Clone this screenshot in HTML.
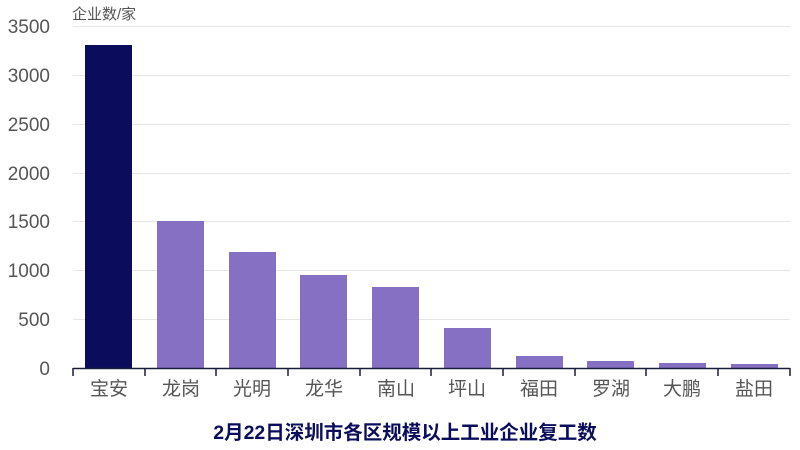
<!DOCTYPE html><html><head><meta charset="utf-8"><style>body{margin:0;background:#fff}svg{display:block}</style></head><body>
<svg width="800" height="450" xmlns="http://www.w3.org/2000/svg" font-family="'Liberation Sans','Noto Sans CJK SC',sans-serif">
<g stroke="#e6e6e6" stroke-width="1">
<line x1="73" x2="790" y1="26.5" y2="26.5"/><line x1="73" x2="790" y1="75.5" y2="75.5"/><line x1="73" x2="790" y1="124.5" y2="124.5"/><line x1="73" x2="790" y1="173.5" y2="173.5"/><line x1="73" x2="790" y1="221.5" y2="221.5"/><line x1="73" x2="790" y1="270.5" y2="270.5"/><line x1="73" x2="790" y1="319.5" y2="319.5"/>
</g>
<g font-size="19" fill="#555" text-anchor="end">
<text x="50" y="33">3500</text><text x="50" y="82">3000</text><text x="50" y="131">2500</text><text x="50" y="180">2000</text><text x="50" y="228">1500</text><text x="50" y="277">1000</text><text x="50" y="326">500</text><text x="50" y="375">0</text>
</g>
<text x="72" y="19" font-size="15" fill="#555">企业数/家</text>
<rect x="85" y="45" width="47" height="323" fill="#0b0d5c"/>
<g fill="#8670c4">
<rect x="157" y="221" width="47" height="147"/><rect x="229" y="252" width="47" height="116"/><rect x="300" y="275" width="47" height="93"/><rect x="372" y="287" width="47" height="81"/><rect x="444" y="328" width="47" height="40"/><rect x="516" y="356" width="47" height="12"/><rect x="587" y="361" width="47" height="7"/><rect x="659" y="363" width="47" height="5"/><rect x="731" y="364" width="47" height="4"/>
</g>
<g stroke="#1a1a3a" stroke-width="1.5">
<line x1="73" x2="790" y1="368.5" y2="368.5"/>
<line x1="73" x2="73" y1="368" y2="376"/><line x1="145" x2="145" y1="368" y2="376"/><line x1="216" x2="216" y1="368" y2="376"/><line x1="288" x2="288" y1="368" y2="376"/><line x1="360" x2="360" y1="368" y2="376"/><line x1="431" x2="431" y1="368" y2="376"/><line x1="503" x2="503" y1="368" y2="376"/><line x1="575" x2="575" y1="368" y2="376"/><line x1="646" x2="646" y1="368" y2="376"/><line x1="718" x2="718" y1="368" y2="376"/><line x1="790" x2="790" y1="368" y2="376"/>
</g>
<g font-size="19" fill="#555" text-anchor="middle">
<text x="109" y="395">宝安</text><text x="181" y="395">龙岗</text><text x="252" y="395">光明</text><text x="324" y="395">龙华</text><text x="396" y="395">南山</text><text x="467" y="395">坪山</text><text x="539" y="395">福田</text><text x="611" y="395">罗湖</text><text x="682" y="395">大鹏</text><text x="754" y="395">盐田</text>
</g>
<text x="405" y="439" font-size="19.5" font-weight="bold" fill="#0b0d5c" text-anchor="middle">2月22日深圳市各区规模以上工业企业复工数</text>
</svg></body></html>
